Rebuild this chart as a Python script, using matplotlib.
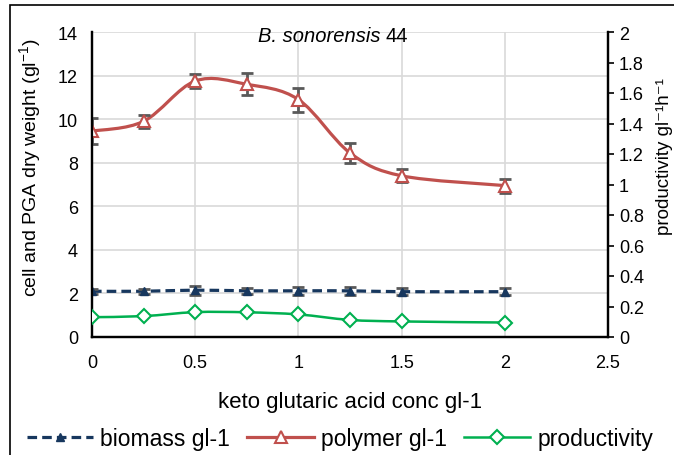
import numpy as np
import matplotlib
matplotlib.use("Agg")
import matplotlib.pyplot as plt
from matplotlib.path import Path
from matplotlib.patches import PathPatch, Rectangle
from matplotlib.lines import Line2D

plt.rcParams['font.family'] = ['Liberation Sans', 'DejaVu Sans']
plt.rcParams['mathtext.fontset'] = 'custom'
plt.rcParams['mathtext.rm'] = 'Liberation Sans'
plt.rcParams['mathtext.it'] = 'Liberation Sans:italic'

conc = [0, 0.25, 0.5, 0.75, 1.0, 1.25, 1.5, 2.0]
biomass = [2.10, 2.10, 2.15, 2.12, 2.12, 2.12, 2.08, 2.08]
biomass_err = [0.12, 0.12, 0.2, 0.15, 0.18, 0.18, 0.15, 0.15]
polymer = [9.45, 9.9, 11.75, 11.6, 10.9, 8.45, 7.4, 6.95]
polymer_err = [0.6, 0.3, 0.32, 0.5, 0.55, 0.45, 0.3, 0.32]
productivity = [0.13, 0.137, 0.163, 0.162, 0.148, 0.112, 0.102, 0.095]

NAVY = '#17375E'
RED = '#C0504D'
GREEN = '#00B050'
GRAY = '#595959'


def smooth_path(x, y):
    pts = np.column_stack([x, y]).astype(float)
    n = len(pts)
    verts = [pts[0]]
    codes = [Path.MOVETO]
    for i in range(n - 1):
        p0 = pts[i - 1] if i > 0 else pts[i]
        p1 = pts[i]
        p2 = pts[i + 1]
        p3 = pts[i + 2] if i + 2 < n else pts[i + 1]
        c1 = p1 + (p2 - p0) / 6.0
        c2 = p2 - (p3 - p1) / 6.0
        verts += [c1, c2, p2]
        codes += [Path.CURVE4] * 3
    return Path(verts, codes)


fig = plt.figure(figsize=(6.74, 4.56), dpi=100)
ax = fig.add_axes([92 / 674, 1 - 338 / 456, (608 - 92) / 674, (338 - 33) / 456])
ax2 = ax.twinx()

ax.set_xlim(0, 2.5)
ax.set_ylim(0, 14)
ax2.set_ylim(0, 2)
ax.set_xticks(np.arange(0, 2.51, 0.5))
ax.set_xticklabels(['0', '0.5', '1', '1.5', '2', '2.5'])
ax.set_yticks(np.arange(0, 14.1, 2))
ax2.set_yticks(np.arange(0, 2.01, 0.2))
ax2.set_yticklabels(['0', '0.2', '0.4', '0.6', '0.8', '1', '1.2', '1.4', '1.6', '1.8', '2'])

ax.grid(True, color='#D9D9D9', linewidth=1.2)
ax.set_axisbelow(True)
for a in (ax, ax2):
    a.spines['top'].set_visible(False)
    for s in ('left', 'bottom', 'right'):
        a.spines[s].set_linewidth(1.6)
        a.spines[s].set_color('black')
ax.tick_params(axis='x', length=0, labelsize=13, pad=12)
ax.tick_params(axis='y', length=0, labelsize=13, pad=10)
ax2.tick_params(axis='y', length=4, width=1.2, labelsize=13, pad=4, direction='out')

# polymer
ax.add_patch(PathPatch(smooth_path(conc, polymer), fill=False, edgecolor=RED, lw=2.3, zorder=3))
ax.errorbar(conc, polymer, yerr=polymer_err, fmt='none', ecolor=GRAY, elinewidth=2,
            capsize=4, capthick=2, zorder=4)
ax.plot(conc, polymer, linestyle='none', marker='^', markersize=8, markerfacecolor='white',
        markeredgecolor=RED, markeredgewidth=1.5, zorder=5)

# biomass
ax.add_patch(PathPatch(smooth_path(conc, biomass), fill=False, edgecolor=NAVY, lw=2.3,
                       linestyle=(0, (3, 1.6)), zorder=3))
ax.errorbar(conc, biomass, yerr=biomass_err, fmt='none', ecolor=GRAY, elinewidth=2,
            capsize=4, capthick=2, zorder=4)
ax.plot(conc, biomass, linestyle='none', marker='^', markersize=6, color=NAVY, zorder=5)

# productivity
ax2.add_patch(PathPatch(smooth_path(conc, productivity), fill=False, edgecolor=GREEN, lw=1.8, zorder=3))
ax2.plot(conc, productivity, linestyle='none', marker='D', markersize=7, markerfacecolor='white',
         markeredgecolor=GREEN, markeredgewidth=1.5, zorder=5)

ax.set_xlabel('keto glutaric acid conc gl-1', fontsize=16)
ax.xaxis.set_label_coords(0.5, -(392 - 338) / 305, transform=ax.transAxes)
ax.set_ylabel('cell and PGA dry weight (gl$^{-1}$)', fontsize=14)
ax.yaxis.set_label_coords(-(92 - 43) / 516, (338 - 168) / 305)
ax2.set_ylabel('productivity gl\u207b\u00b9h\u207b\u00b9', fontsize=13.5)
ax2.yaxis.set_label_coords((656 - 92) / 516, (338 - 157) / 305)

# title: italic species name followed by upright strain number
t1 = ax.text((258 - 92) / 516, (338 - 37) / 305, 'B. sonorensis', transform=ax.transAxes,
             ha='left', va='center', fontsize=14.5, fontstyle='italic')
fig.canvas.draw()
bb = t1.get_window_extent()
ax.text(bb.x1 + 5, bb.y0 + bb.height / 2, '44', transform=None,
        ha='left', va='center', fontsize=14.5)

handles = [
    Line2D([], [], color=NAVY, lw=2.3, linestyle=(0, (3, 1.6)), marker='^', markersize=6),
    Line2D([], [], color=RED, lw=2.3, marker='^', markersize=8, markerfacecolor='white',
           markeredgecolor=RED, markeredgewidth=1.5),
    Line2D([], [], color=GREEN, lw=1.8, marker='D', markersize=7, markerfacecolor='white',
           markeredgecolor=GREEN, markeredgewidth=1.5),
]
fig.legend(handles, ['biomass gl-1', 'polymer gl-1', 'productivity'], loc='center',
           bbox_to_anchor=(340 / 674, 1 - 440 / 456), ncol=3, frameon=False, fontsize=16.5,
           handlelength=2.9, handletextpad=0.3, columnspacing=0.75, borderpad=0.1)

fig.add_artist(Rectangle((10 / 674, -0.05), 1.0, 1 - 6 / 456 + 0.05, transform=fig.transFigure,
                         fill=False, edgecolor='black', lw=1.2))

fig.savefig('out.png', dpi=100)
